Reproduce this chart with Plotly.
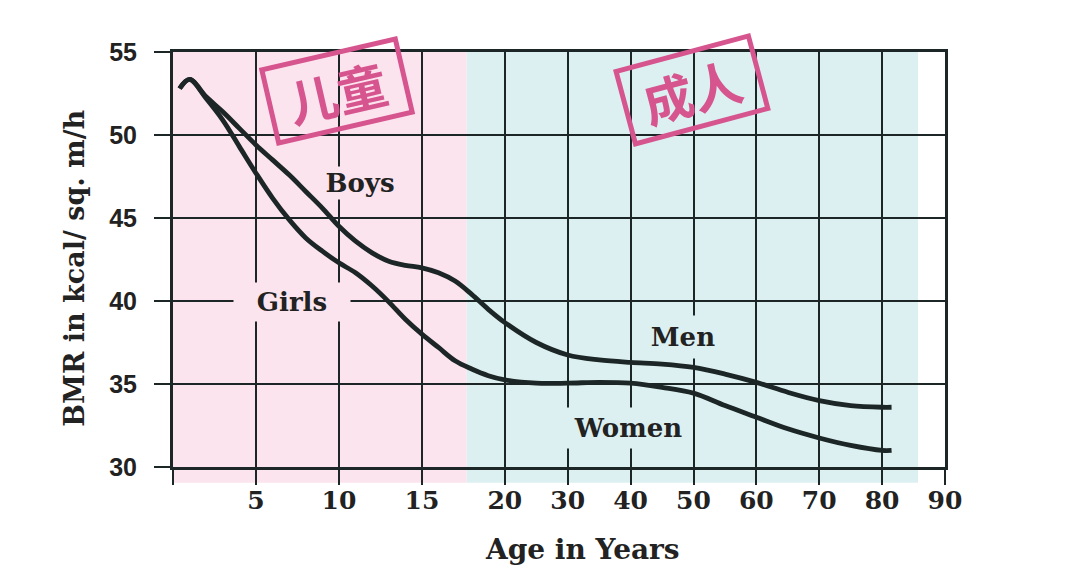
import plotly.graph_objects as go

# ---- data ----
ages = [0.4, 1, 2, 3, 4, 5, 6, 7, 8, 9, 10, 11, 12, 13, 14, 15, 16, 17, 18, 19, 20,
        25, 30, 35, 40, 45, 50, 55, 60, 65, 70, 75, 80, 81.5]
bmr_male = [52.8, 53.35, 52.3, 51.4, 50.4, 49.4, 48.5, 47.6, 46.6, 45.6, 44.5, 43.6, 42.9,
            42.4, 42.15, 42.0, 41.7, 41.2, 40.4, 39.5, 38.7,
            37.5, 36.75, 36.45, 36.3, 36.2, 36.0, 35.6, 35.1, 34.5, 34.0, 33.7, 33.6, 33.6]
bmr_female = [52.8, 53.35, 52.2, 50.9, 49.3, 47.7, 46.2, 44.9, 43.8, 43.0, 42.3, 41.7, 40.9,
              39.95, 38.9, 38.0, 37.2, 36.4, 35.9, 35.5, 35.25,
              35.05, 35.05, 35.1, 35.05, 34.8, 34.45, 33.7, 33.0, 32.3, 31.75, 31.3, 31.0, 31.0]
tick_ages = [0, 5, 10, 15, 20, 30, 40, 50, 60, 70, 80, 90]
tick_text = ["", "5", "10", "15", "20", "30", "40", "50", "60", "70", "80", "90"]
y_ticks = [30, 35, 40, 45, 50, 55]
child_span = [0, 17.7]
adult_span = [17.7, 85.7]


def pos(a):
    # the original age axis is piecewise: 5-year steps to 20, then 10-year steps
    return a * 16.6 if a <= 20 else 332 + (a - 20) * 6.29


XMAX = pos(90)
line_col = "#1d2626"
ink = "#222222"
stamp_col = "#d6558f"
pink = "#fce4ee"
cyan = "#dcf0f1"

fig = go.Figure()
for vals, name in [(bmr_male, "Boys / Men"), (bmr_female, "Girls / Women")]:
    fig.add_trace(go.Scatter(x=[pos(a) for a in ages], y=vals, mode="lines", name=name,
                             line=dict(color=line_col, width=4.8, shape="spline", smoothing=1.0),
                             showlegend=False))

shapes = []
for span, col in [(child_span, pink), (adult_span, cyan)]:
    shapes.append(dict(type="rect", xref="paper", yref="paper",
                       x0=pos(span[0]) / XMAX, x1=pos(span[1]) / XMAX, y0=-0.038, y1=1,
                       fillcolor=col, line=dict(width=0), layer="below"))

serif = "DejaVu Serif"
ann = []
for txt, x, y, w, h, bg in [("Boys", 0.2422, 0.684, 78, 30, pink),
                            ("Girls", 0.154, 0.398, 114, 36, pink),
                            ("Men", 0.661, 0.313, 78, 40, cyan),
                            ("Women", 0.589, 0.094, 126, 38, cyan)]:
    ann.append(dict(text=txt, x=x, y=y, xref="paper", yref="paper", showarrow=False,
                    xanchor="center", yanchor="middle",
                    font=dict(family=serif, size=26, color=ink, weight="bold"), bgcolor=bg,
                    width=w, height=h))
# stamps
for txt, x, y, ang in [("儿童", 0.2124, 0.906, -13), ("成人", 0.672, 0.908, -15)]:
    ann.append(dict(text="<b>" + txt + "</b>", x=x, y=y, xref="paper", yref="paper",
                    xanchor="center", yanchor="middle",
                    showarrow=False, textangle=ang,
                    font=dict(family="Noto Sans CJK SC", size=50, color=stamp_col),
                    bordercolor=stamp_col, borderwidth=5, borderpad=2, width=128, height=66))
ann.append(dict(text="BMR in kcal/ sq. m/h", x=-0.127, y=0.48, xref="paper", yref="paper",
                xanchor="center", yanchor="middle",
                showarrow=False, textangle=-90,
                font=dict(family=serif, size=27, color=ink, weight="bold")))
ann.append(dict(text="Age in Years", x=0.53, y=-0.198, xref="paper", yref="paper",
                xanchor="center", yanchor="middle",
                showarrow=False, font=dict(family=serif, size=28, color=ink, weight="bold")))

fig.update_layout(
    width=1080, height=585, margin=dict(l=165, r=143, t=44, b=126, autoexpand=False),
    paper_bgcolor="white", plot_bgcolor="rgba(0,0,0,0)",
    shapes=shapes, annotations=ann,
    xaxis=dict(range=[0, XMAX], tickvals=[pos(a) for a in tick_ages], ticktext=tick_text,
               automargin=False,
               showgrid=True, gridcolor=line_col, gridwidth=2, zeroline=False,
               showline=True, linecolor=line_col, linewidth=3, mirror=True,
               ticks="outside", ticklen=15, tickwidth=2, tickcolor=line_col,
               ticklabelstandoff=-6,
               tickfont=dict(family=serif, size=25, color=ink, weight="bold")),
    yaxis=dict(range=[30, 55], tickvals=y_ticks, showgrid=True, gridcolor=line_col, gridwidth=2,
               automargin=False,
               zeroline=False, showline=True, linecolor=line_col, linewidth=3, mirror=True,
               ticks="outside", ticklen=16, tickwidth=2, tickcolor=line_col,
               ticklabelstandoff=12,
               tickfont=dict(family="Liberation Sans", size=25, color=ink, weight="bold")),
)
fig.write_html("out.html")
